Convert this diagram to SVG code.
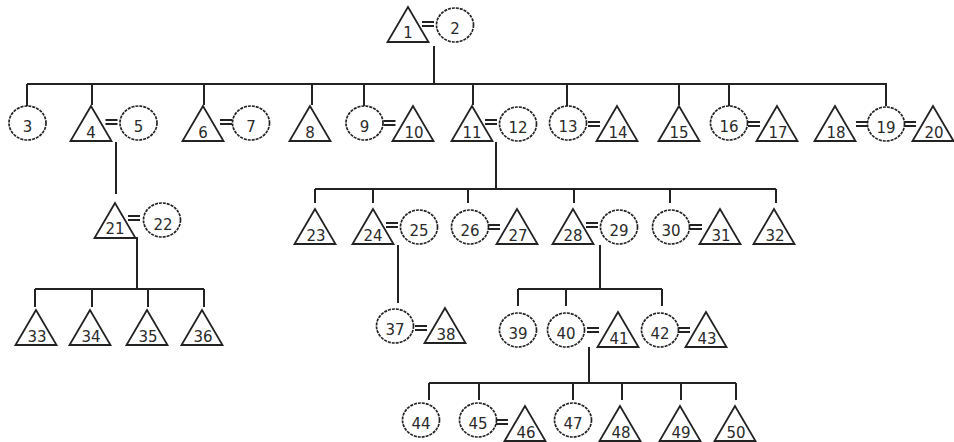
<svg xmlns="http://www.w3.org/2000/svg" xmlns:xlink="http://www.w3.org/1999/xlink" width="954" height="442" viewBox="0 0 954 442">
  <style>
    .ln { stroke: #222; stroke-width: 2; fill: none; }
    .tri { fill: #fff; stroke: #222; stroke-width: 1.8; stroke-linejoin: miter; }
    .cir { fill: #fff; stroke: #222; stroke-width: 1.7; stroke-dasharray: 3 1; }
    .lbl { font-family: "DejaVu Sans", Verdana, sans-serif; font-size: 15px; fill: #2a2a2a; text-anchor: middle; }
    .eq { stroke: #222; stroke-width: 2; fill: none; }
  </style>
  <defs>
    <!-- male: triangle, apex at origin -->
    <polygon id="male" class="tri" points="0,0 -20.5,35 20.5,35"/>
    <!-- female: ellipse, centred at origin -->
    <ellipse id="female" class="cir" cx="0" cy="0" rx="18.5" ry="17"/>
    <!-- marriage sign -->
    <path id="marry" class="eq" d="M-6,-2H6M-6,2H6"/>
  </defs>

  <rect width="954" height="442" fill="#fff"/>

  <!-- descent lines -->
  <g id="connectors" class="ln">
    <!-- 1=2 children -->
    <path d="M434,46V84M27,84H887"/>
    <path d="M27,84V106M92,84V105M204,84V105M312,84V105M364,84V106M473,84V105M567,84V106M679,84V105M729,84V106M886,84V106"/>
    <!-- 4=5 -->
    <path d="M116,142V194"/>
    <!-- 21=22 -->
    <path d="M137,237V289M35,289H204M35,289V307M92,289V307M148,289V307M204,289V307"/>
    <!-- 11=12 -->
    <path d="M496,142V189M315,189H776M315,189V203M373,189V203M468,189V203M574,189V203M670,189V203M776,189V203"/>
    <!-- 24=25 -->
    <path d="M398,245V303"/>
    <!-- 28=29 -->
    <path d="M600,245V289M518,289H662M518,289V306M566,289V306M662,289V306"/>
    <!-- 40=41 -->
    <path d="M589,347V383M429,383H736M429,383V400M479,383V400M573,383V400M622,383V400M681,383V400M736,383V400"/>
  </g>

  <!-- marriage signs -->
  <g id="marriages">
    <use href="#marry" x="428" y="24"/>
    <use href="#marry" x="111.5" y="122"/>
    <use href="#marry" x="226" y="122"/>
    <use href="#marry" x="389.5" y="123"/>
    <use href="#marry" x="491" y="122"/>
    <use href="#marry" x="594" y="124"/>
    <use href="#marry" x="754" y="124"/>
    <use href="#marry" x="862" y="124"/>
    <use href="#marry" x="910" y="124"/>
    <use href="#marry" x="134" y="218"/>
    <use href="#marry" x="392" y="225"/>
    <use href="#marry" x="494" y="227"/>
    <use href="#marry" x="592" y="225"/>
    <use href="#marry" x="696" y="227"/>
    <use href="#marry" x="421" y="328"/>
    <use href="#marry" x="593" y="330"/>
    <use href="#marry" x="684" y="330"/>
    <use href="#marry" x="502" y="422"/>
  </g>

  <!-- generation I -->
  <g id="n1"><use href="#male" x="408" y="7"/><text class="lbl" x="408" y="38">1</text></g>
  <g id="n2"><use href="#female" x="455" y="25"/><text class="lbl" x="455" y="34">2</text></g>

  <!-- generation II -->
  <g id="n3"><use href="#female" x="27.5" y="123"/><text class="lbl" x="27.5" y="132">3</text></g>
  <g id="n4"><use href="#male" x="91" y="106"/><text class="lbl" x="91" y="138">4</text></g>
  <g id="n5"><use href="#female" x="138.5" y="123"/><text class="lbl" x="138.5" y="132">5</text></g>
  <g id="n6"><use href="#male" x="203" y="106"/><text class="lbl" x="203" y="138">6</text></g>
  <g id="n7"><use href="#female" x="251" y="123"/><text class="lbl" x="251" y="132">7</text></g>
  <g id="n8"><use href="#male" x="310" y="106"/><text class="lbl" x="310" y="138">8</text></g>
  <g id="n9"><use href="#female" x="364.5" y="123"/><text class="lbl" x="364.5" y="132">9</text></g>
  <g id="n10"><use href="#male" x="413" y="106"/><text class="lbl" x="414" y="138">10</text></g>
  <g id="n11"><use href="#male" x="472" y="106"/><text class="lbl" x="472" y="138">11</text></g>
  <g id="n12"><use href="#female" x="518" y="124"/><text class="lbl" x="518" y="133">12</text></g>
  <g id="n13"><use href="#female" x="568" y="123"/><text class="lbl" x="568" y="132">13</text></g>
  <g id="n14"><use href="#male" x="617" y="106"/><text class="lbl" x="618" y="138">14</text></g>
  <g id="n15"><use href="#male" x="679" y="106"/><text class="lbl" x="679" y="138">15</text></g>
  <g id="n16"><use href="#female" x="729" y="123"/><text class="lbl" x="729" y="132">16</text></g>
  <g id="n17"><use href="#male" x="777" y="106"/><text class="lbl" x="778" y="138">17</text></g>
  <g id="n18"><use href="#male" x="835" y="106"/><text class="lbl" x="836" y="138">18</text></g>
  <g id="n19"><use href="#female" x="886" y="124"/><text class="lbl" x="886" y="133">19</text></g>
  <g id="n20"><use href="#male" x="933" y="106"/><text class="lbl" x="934" y="138">20</text></g>

  <!-- generation III -->
  <g id="n21"><use href="#male" x="115" y="203"/><text class="lbl" x="115" y="234">21</text></g>
  <g id="n22"><use href="#female" x="162" y="220"/><text class="lbl" x="163" y="230">22</text></g>
  <g id="n23"><use href="#male" x="315" y="209"/><text class="lbl" x="316" y="241">23</text></g>
  <g id="n24"><use href="#male" x="373" y="209"/><text class="lbl" x="373" y="241">24</text></g>
  <g id="n25"><use href="#female" x="419" y="227"/><text class="lbl" x="419" y="236">25</text></g>
  <g id="n26"><use href="#female" x="470" y="227"/><text class="lbl" x="470" y="236">26</text></g>
  <g id="n27"><use href="#male" x="517" y="209"/><text class="lbl" x="518" y="241">27</text></g>
  <g id="n28"><use href="#male" x="573" y="209"/><text class="lbl" x="573" y="241">28</text></g>
  <g id="n29"><use href="#female" x="619" y="227"/><text class="lbl" x="619" y="236">29</text></g>
  <g id="n30"><use href="#female" x="671" y="227"/><text class="lbl" x="671" y="236">30</text></g>
  <g id="n31"><use href="#male" x="720" y="209"/><text class="lbl" x="721" y="241">31</text></g>
  <g id="n32"><use href="#male" x="774" y="209"/><text class="lbl" x="775" y="241">32</text></g>

  <!-- generation IV -->
  <g id="n33"><use href="#male" x="36" y="310"/><text class="lbl" x="37" y="342">33</text></g>
  <g id="n34"><use href="#male" x="90" y="310"/><text class="lbl" x="91" y="342">34</text></g>
  <g id="n35"><use href="#male" x="147" y="310"/><text class="lbl" x="148" y="342">35</text></g>
  <g id="n36"><use href="#male" x="202" y="310"/><text class="lbl" x="203" y="342">36</text></g>
  <g id="n37"><use href="#female" x="395" y="326"/><text class="lbl" x="395" y="335">37</text></g>
  <g id="n38"><use href="#male" x="445" y="308"/><text class="lbl" x="446" y="340">38</text></g>
  <g id="n39"><use href="#female" x="518" y="330"/><text class="lbl" x="518" y="339">39</text></g>
  <g id="n40"><use href="#female" x="566" y="330"/><text class="lbl" x="566" y="339">40</text></g>
  <g id="n41"><use href="#male" x="618" y="312"/><text class="lbl" x="619" y="344">41</text></g>
  <g id="n42"><use href="#female" x="660" y="330"/><text class="lbl" x="660" y="339">42</text></g>
  <g id="n43"><use href="#male" x="706" y="312"/><text class="lbl" x="707" y="344">43</text></g>

  <!-- generation V -->
  <g id="n44"><use href="#female" x="421" y="420"/><text class="lbl" x="421" y="429">44</text></g>
  <g id="n45"><use href="#female" x="478" y="420"/><text class="lbl" x="478" y="429">45</text></g>
  <g id="n46"><use href="#male" x="525" y="406"/><text class="lbl" x="526" y="438">46</text></g>
  <g id="n47"><use href="#female" x="573" y="420"/><text class="lbl" x="573" y="429">47</text></g>
  <g id="n48"><use href="#male" x="620" y="406"/><text class="lbl" x="621" y="438">48</text></g>
  <g id="n49"><use href="#male" x="680" y="406"/><text class="lbl" x="681" y="438">49</text></g>
  <g id="n50"><use href="#male" x="735" y="406"/><text class="lbl" x="736" y="438">50</text></g>
</svg>
